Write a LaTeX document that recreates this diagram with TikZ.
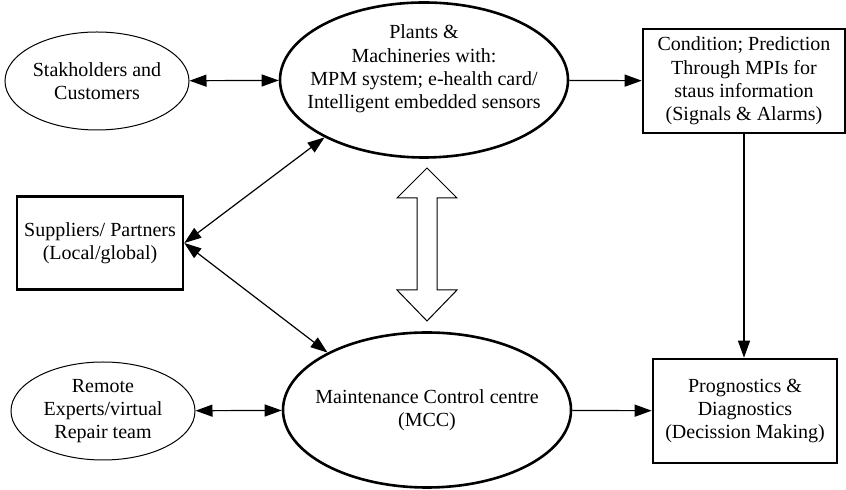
\documentclass[tikz,border=0pt]{standalone}
\usepackage{fontspec}
\setmainfont{Liberation Serif}
\usetikzlibrary{arrows.meta}
\usetikzlibrary{shapes.geometric}

\begin{document}
\begin{tikzpicture}[x=0.5pt,y=-0.5pt,line width=0.6pt,>={Triangle[length=8.5pt,width=6pt]},
  every node/.style={font=\fontsize{10}{11.6}\selectfont,align=center},
  ell/.style={ellipse,draw,line width=0.5pt,inner sep=0pt,minimum width=92pt,minimum height=49pt},
  bigell/.style={ellipse,draw,line width=1.3pt,inner sep=0pt,minimum width=144pt,minimum height=77.5pt},
  box/.style={rectangle,draw,line width=1.3pt,inner sep=0pt}]
\useasboundingbox (0,0) rectangle (846,490);

\node[ell] (a) at (97,81) {Stakholders and\\Customers};
\node[bigell,label={[yshift=5.5pt]center:{Plants \&\\Machineries with:\\MPM system; e-health card/\\Intelligent embedded sensors}}] (p) at (424,80) {};
\node[box,minimum width=101pt,minimum height=52pt] (c) at (744,81) {Condition; Prediction\\Through MPIs for\\staus information\\(Signals \& Alarms)};
\node[box,minimum width=83pt,minimum height=46.5pt] (s) at (100,243) {Suppliers/ Partners\\(Local/global)};
\node[ell] (r) at (103,411) {Remote\\Experts/virtual\\Repair team};
\node[bigell,label={center:{Maintenance Control centre\\(MCC)}}] (m) at (427,410) {};
\node[box,minimum width=92pt,minimum height=52pt] (d) at (745,411) {Prognostics \&\\Diagnostics\\(Decission Making)};

\draw[<->] (a) -- (p);
\draw[->] (p) -- (c);
\draw[->] (c) -- (c |- d.north);
\draw[<->] (s.east) -- (p.210);
\draw[<->] (s.east) -- (m.150);
\draw[<->] (r) -- (m);
\draw[->] (m) -- (d);
% open arrow between plants and MCC
\draw[line width=0.5pt] (427,168) -- ++(30,30) -- ++(-20,0) -- ++(0,92) -- ++(20,0) -- ++(-30,31)
  -- ++(-30,-31) -- ++(20,0) -- ++(0,-92) -- ++(-20,0) -- cycle;
\end{tikzpicture}
\end{document}
